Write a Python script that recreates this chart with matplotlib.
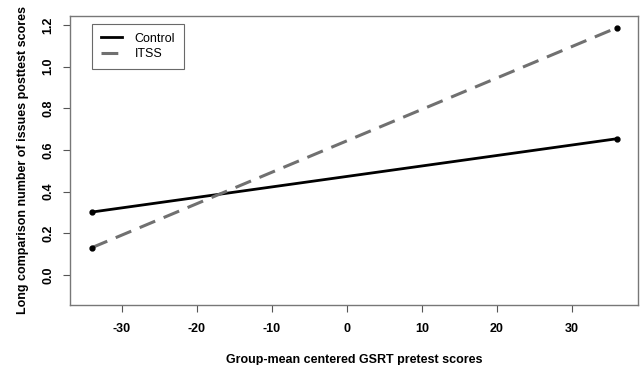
import matplotlib
matplotlib.use("Agg")
import matplotlib.pyplot as plt

x_vals = [-34, 36]
control = [0.302, 0.654]
itss = [0.131, 1.187]
xticks = [-30, -20, -10, 0, 10, 20, 30]
yticks = [0.0, 0.2, 0.4, 0.6, 0.8, 1.0, 1.2]

plt.rcParams['font.family'] = ['Liberation Sans', 'DejaVu Sans']
fig = plt.figure(figsize=(6.41, 3.65), dpi=100)
ax = fig.add_axes([70/641, 60/365, 568/641, 289/365])

ax.plot(x_vals, control, color='black', lw=2, marker='o', ms=3.5, label='Control')
ax.plot(x_vals, itss, color='#707070', lw=2.2, ls=(0, (5.5, 3)), marker='o', ms=3.5,
        mfc='black', mec='black', label='ITSS')

ax.set_xlim(-36.9, 38.8)
ax.set_ylim(-0.144, 1.243)
ax.set_xticks(xticks)
ax.set_yticks(yticks)
ax.set_xticklabels([str(t) for t in xticks], fontweight='bold', fontsize=9)
ax.set_yticklabels([f"{t:.1f}" for t in yticks], fontweight='bold', fontsize=9, rotation=90, va='center')
ax.tick_params(axis='both', direction='out', length=5, width=0.8, color='#555555')
ax.tick_params(axis='x', pad=8)
ax.tick_params(axis='y', pad=6)
for s in ax.spines.values():
    s.set_color('#777777')
    s.set_linewidth(1.0)

ax.set_xlabel('Group-mean centered GSRT pretest scores', fontweight='bold', fontsize=9, labelpad=14)
ax.set_ylabel('Long comparison number of issues posttest scores', fontweight='bold', fontsize=9, labelpad=10)

leg = ax.legend(loc='upper left', bbox_to_anchor=(22/568, 1 - 8/289), borderaxespad=0,
                frameon=True, fancybox=False,
                fontsize=9, handlelength=1.7, borderpad=0.7, labelspacing=0.25, handletextpad=1.0)
leg.get_frame().set_edgecolor('#444444')
leg.get_frame().set_linewidth(0.8)
for h in leg.legend_handles:
    h.set_marker('')

fig.savefig('out.png', dpi=100)
